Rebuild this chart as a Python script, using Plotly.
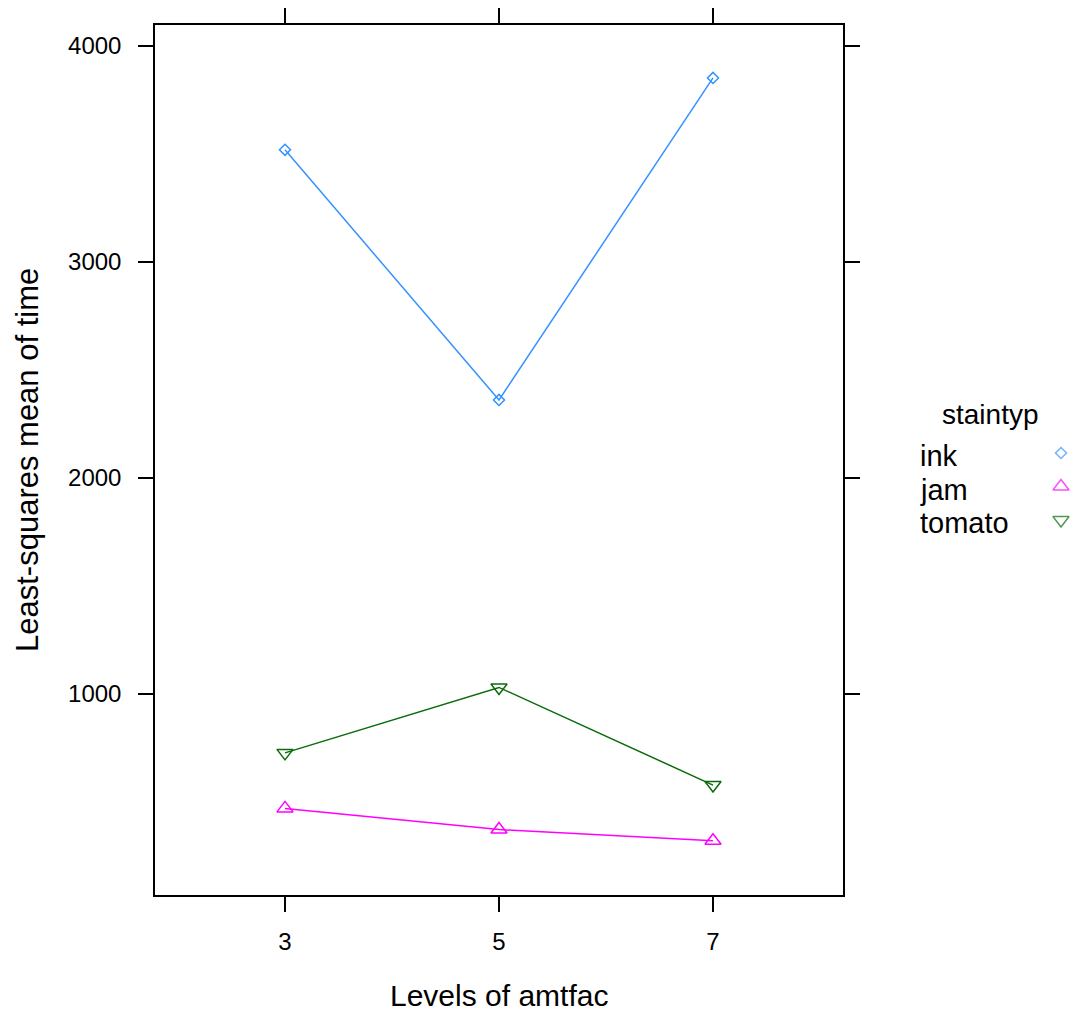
import plotly.graph_objects as go

# ---- data ----
amtfac = [3, 5, 7]
staintypes = ["ink", "jam", "tomato"]
ink = [3519, 2361, 3852]
jam = [470, 372, 320]
tomato = [727, 1030, 578]
x_ticks = [3, 5, 7]
y_ticks = [1000, 2000, 3000, 4000]

# the page body has an 8px margin, so the figure is 8px smaller and every
# pixel position below is given in page pixels minus OFF
OFF = 8
W, H = 1078 - OFF, 1013 - OFF
FONT = "Liberation Sans, Arial, sans-serif"
colors = {"ink": "#3393ff", "jam": "#ff00ff", "tomato": "#0a6b0a"}
symbols = {"ink": "diamond-open", "jam": "triangle-up-open", "tomato": "triangle-down-open"}
msize = {"ink": 8.5, "jam": 14, "tomato": 14}
series = {"ink": ink, "jam": jam, "tomato": tomato}


def px(v):
    return v - OFF


# plot box in page pixels
L, R, T, B = px(155), px(843), px(25), px(895)

fig = go.Figure()
for name in staintypes:
    fig.add_trace(go.Scatter(
        x=amtfac, y=series[name], mode="lines+markers", name=name,
        line=dict(color=colors[name], width=1.5),
        marker=dict(symbol=symbols[name], size=msize[name], color=colors[name],
                    line=dict(width=1.5, color=colors[name])),
        showlegend=False, xaxis="x", yaxis="y"))

# custom legend keys (symbol to the right of the text, like lattice)
fig.add_trace(go.Scatter(
    x=[0] * len(staintypes), y=staintypes, mode="markers",
    marker=dict(symbol=[symbols[s] for s in staintypes],
                size=[msize[s] for s in staintypes],
                color=[colors[s] for s in staintypes],
                line=dict(width=1.5, color=[colors[s] for s in staintypes])),
    showlegend=False, xaxis="x2", yaxis="y2", hoverinfo="skip"))

axis_common = dict(showgrid=False, zeroline=False, showline=True, linecolor="black",
                   linewidth=1.5, mirror="ticks", ticks="outside", ticklen=15,
                   tickwidth=1.5, tickcolor="black",
                   tickfont=dict(family=FONT, size=24, color="black"))

row_top, row_gap = px(453), 33.5
ann = []
ann.append(dict(text="Levels of amtfac", x=(L + R) / 2 / W, y=1 - px(995) / H, xref="paper", yref="paper",
                showarrow=False, font=dict(family=FONT, size=30, color="black"),
                xanchor="center", yanchor="middle"))
ann.append(dict(text="Least-squares mean of time", x=px(27) / W, y=1 - px(460) / H, xref="paper", yref="paper",
                showarrow=False, textangle=-90, font=dict(family=FONT, size=31, color="black"),
                xanchor="center", yanchor="middle"))
ann.append(dict(text="staintyp", x=px(990) / W, y=1 - px(414) / H, xref="paper", yref="paper",
                showarrow=False, font=dict(family=FONT, size=28, color="black"),
                xanchor="center", yanchor="middle"))
for i, s in enumerate(staintypes):
    ann.append(dict(text=s, x=px(918) / W, y=1 - (row_top + 3 + i * row_gap) / H, xref="paper", yref="paper",
                    showarrow=False, font=dict(family=FONT, size=29, color="black"),
                    xanchor="left", yanchor="middle"))

key_cx = px(1061)
fig.update_layout(
    width=W, height=H, margin=dict(l=0, r=0, t=0, b=0),
    paper_bgcolor="white", plot_bgcolor="white",
    xaxis=dict(domain=[L / W, R / W], range=[1.785, 8.215], tickvals=x_ticks,
               ticklabelstandoff=9, **axis_common),
    yaxis=dict(domain=[1 - B / H, 1 - T / H], range=[69, 4097], tickvals=y_ticks,
               ticklabelstandoff=12, **axis_common),
    xaxis2=dict(domain=[(key_cx - 17) / W, (key_cx + 17) / W], range=[-1, 1], visible=False, anchor="y2"),
    yaxis2=dict(domain=[1 - (row_top + 2.5 * row_gap) / H, 1 - (row_top - 0.5 * row_gap) / H],
                type="category", categoryarray=staintypes, range=[2.5, -0.5],
                visible=False, anchor="x2"),
    annotations=ann,
    showlegend=False,
)

fig.write_html("out.html")
